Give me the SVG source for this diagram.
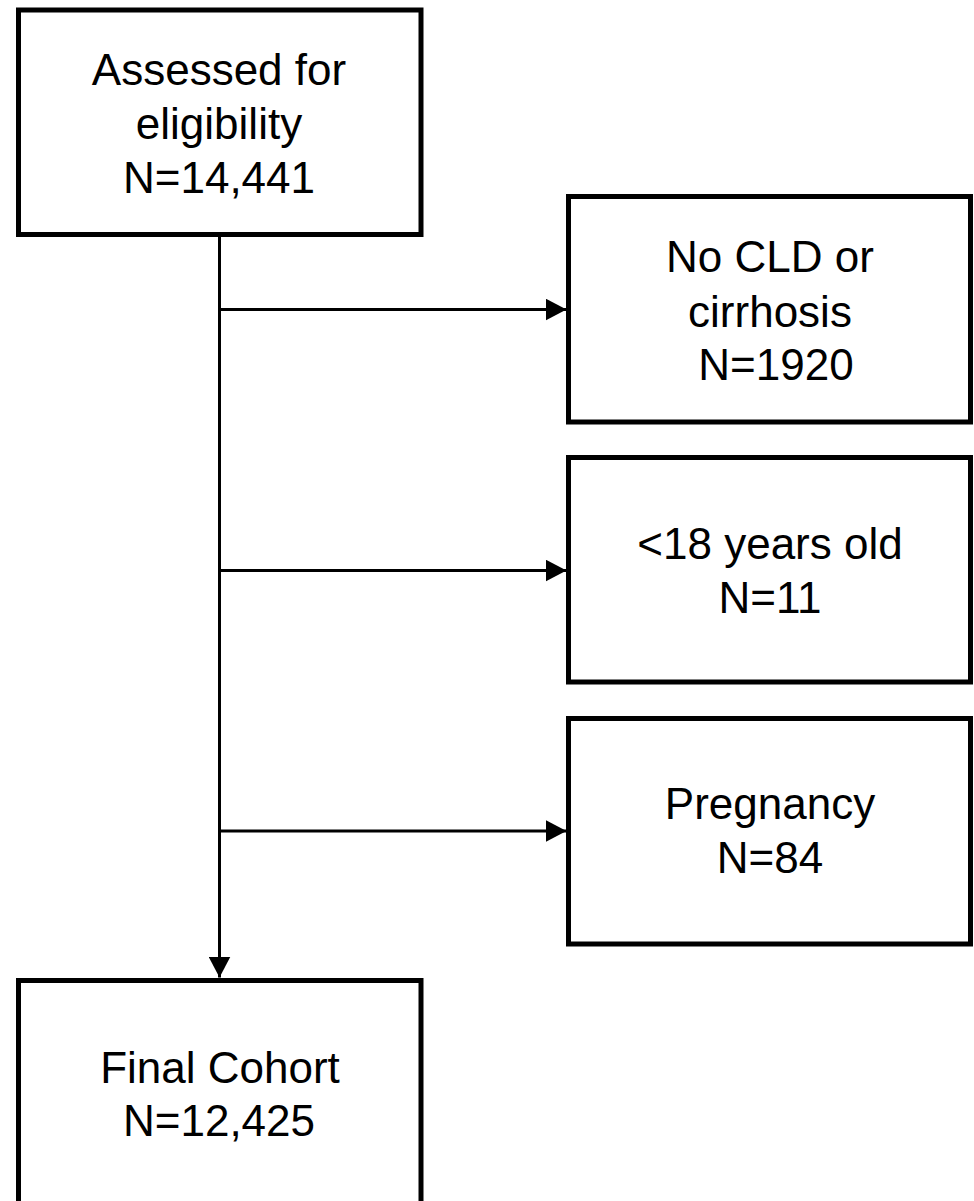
<svg xmlns="http://www.w3.org/2000/svg" width="974" height="1201" viewBox="0 0 974 1201">
  <style>
    .box { fill: #ffffff; stroke: #000000; stroke-width: 5; }
    .lbl { font-family: "Liberation Sans", Arial, sans-serif; font-size: 44px; fill: #000000; text-anchor: middle; }
    .conn { stroke: #000000; stroke-width: 3; fill: none; }
  </style>
  <defs>
    <marker id="arrow" markerUnits="userSpaceOnUse" markerWidth="21" markerHeight="22" refX="21" refY="11" orient="auto">
      <path d="M0,0 L21,11 L0,22 Z" fill="#000000"/>
    </marker>
  </defs>
  <rect x="0" y="0" width="974" height="1201" fill="#ffffff"/>

  <g id="connectors">
    <line class="conn" x1="219.5" y1="234" x2="219.5" y2="977.5" marker-end="url(#arrow)"/>
    <line class="conn" x1="219.5" y1="309.5" x2="566.5" y2="309.5" marker-end="url(#arrow)"/>
    <line class="conn" x1="219.5" y1="570.5" x2="566.5" y2="570.5" marker-end="url(#arrow)"/>
    <line class="conn" x1="219.5" y1="831" x2="566.5" y2="831" marker-end="url(#arrow)"/>
  </g>

  <g id="node-assessed">
    <rect class="box" x="18.5" y="10" width="402.5" height="224.5"/>
    <text class="lbl" x="219" y="85">Assessed for</text>
    <text class="lbl" x="219" y="139">eligibility</text>
    <text class="lbl" x="219" y="193">N=14,441</text>
  </g>

  <g id="node-nocld">
    <rect class="box" x="568.5" y="196.5" width="402" height="225.5"/>
    <text class="lbl" x="770" y="272">No CLD or</text>
    <text class="lbl" x="770" y="327">cirrhosis</text>
    <text class="lbl" x="776" y="380">N=1920</text>
  </g>

  <g id="node-under18">
    <rect class="box" x="568.5" y="457.5" width="402" height="224.5"/>
    <text class="lbl" x="770" y="559">&lt;18 years old</text>
    <text class="lbl" x="770" y="613">N=11</text>
  </g>

  <g id="node-pregnancy">
    <rect class="box" x="568.5" y="718.5" width="402" height="225.5"/>
    <text class="lbl" x="770" y="819">Pregnancy</text>
    <text class="lbl" x="770" y="873">N=84</text>
  </g>

  <g id="node-final">
    <rect class="box" x="18.5" y="980.5" width="402.5" height="240"/>
    <text class="lbl" x="220" y="1083">Final Cohort</text>
    <text class="lbl" x="219" y="1136">N=12,425</text>
  </g>
</svg>
